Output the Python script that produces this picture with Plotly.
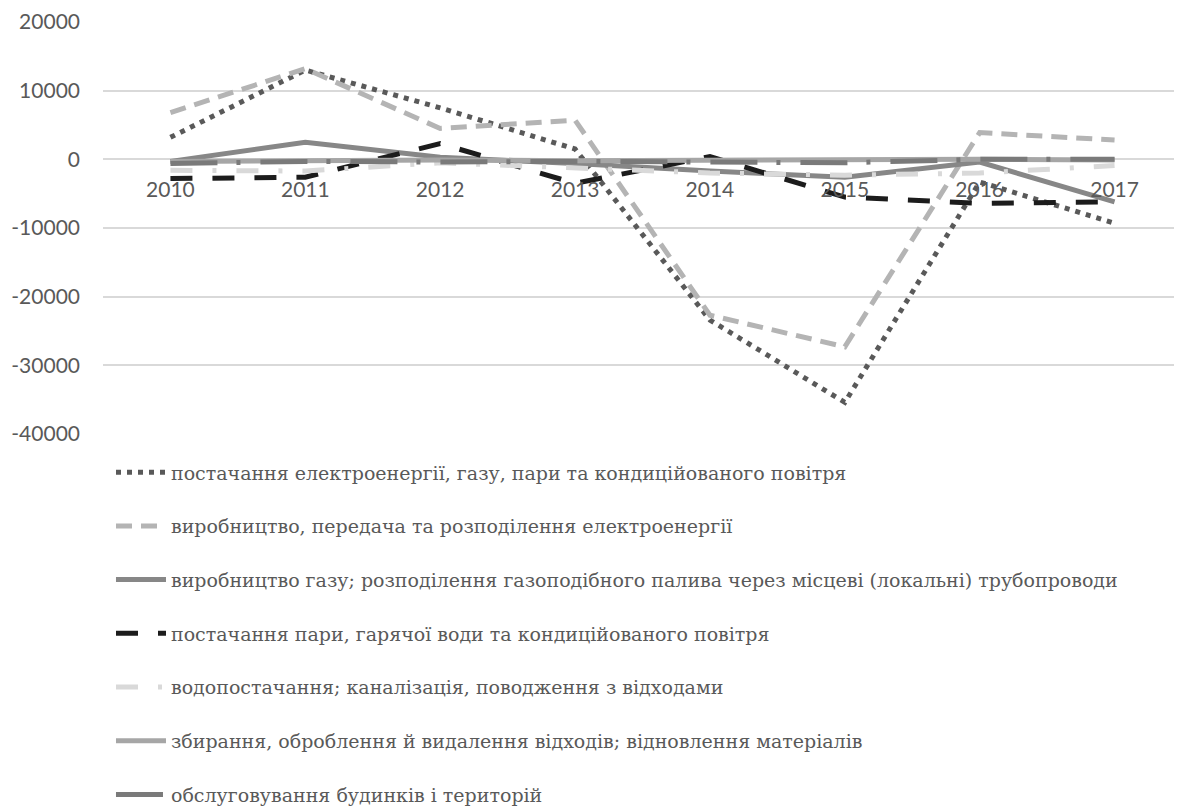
import plotly.graph_objects as go

years = ['2010', '2011', '2012', '2013', '2014', '2015', '2016', '2017']

names = [
    'постачання електроенергії, газу, пари та кондиційованого повітря',
    'виробництво, передача та розподілення електроенергії',
    'виробництво газу; розподілення газоподібного палива через місцеві (локальні) трубопроводи',
    'постачання пари, гарячої води та кондиційованого повітря',
    'водопостачання; каналізація, поводження з відходами',
    'збирання, оброблення й видалення відходів; відновлення матеріалів',
    'обслуговування будинків і територій',
]

s1 = [3200, 13000, 7500, 1500, -23400, -35400, -3300, -9300]
s2 = [6800, 13200, 4500, 5700, -22700, -27300, 3900, 2800]
s3 = [-300, 2500, 300, -600, -1700, -2600, -400, -6200]
s4 = [-2800, -2600, 2300, -3500, 400, -5500, -6400, -6200]
s5 = [-1600, -1700, -500, -1300, -2000, -2300, -2000, -900]
s6 = [-300, -200, -100, -200, -100, -100, 0, -100]
s7 = [-600, -300, -400, -300, -400, -500, 0, 0]

y_ticks = [20000, 10000, 0, -10000, -20000, -30000, -40000]
y_tick_text = ['20000', '10000', '0', '-10000', '-20000', '-30000', '-40000']

series = [s1, s2, s3, s4, s5, s6, s7]
styles = [
    dict(color='#595959', width=5, dash='5px,6px'),
    dict(color='#b4b4b4', width=5, dash='16px,9px'),
    dict(color='#878787', width=5, dash='solid'),
    dict(color='#1c1c1c', width=5, dash='22px,20px'),
    dict(color='#d9d9d9', width=5, dash='22px,20px,4px,20px'),
    dict(color='#a6a6a6', width=5, dash='solid'),
    dict(color='#7a7a7a', width=5, dash='47px,19px,4px,20px'),
]

fig = go.Figure()
for i, (nm, vals, st) in enumerate(zip(names, series, styles)):
    fig.add_trace(go.Scatter(
        x=years, y=vals, name=nm, mode='lines', line=st,
        legendgroup='g%d' % i, legendrank=i + 1,
    ))

fig.update_layout(
    width=1174, height=799,
    paper_bgcolor='white', plot_bgcolor='white',
    margin=dict(l=95, r=0, t=14, b=373, autoexpand=False),
    font=dict(family='Lato', size=21, color='#595959'),
    showlegend=True,
    legend=dict(
        orientation='v', x=0.0074, y=-0.047, xanchor='left', yanchor='top',
        font=dict(family='DejaVu Serif', size=19, color='#595959'),
        traceorder='grouped', tracegroupgap=26,
        bgcolor='rgba(0,0,0,0)', itemwidth=50,
    ),
    xaxis=dict(
        type='category', range=[-0.5, 7.5], showgrid=False, showline=False,
        zeroline=False, ticks='', anchor='free', position=2/3,
        ticklabelstandoff=16,
        tickfont=dict(family='Lato', size=21, color='#595959'),
    ),
    yaxis=dict(
        range=[-40000, 20000], tickvals=y_ticks, ticktext=y_tick_text,
        showgrid=True, gridcolor='#d9d9d9', gridwidth=1.5, zeroline=False,
        showline=False, ticks='', ticklabelstandoff=22,
        tickfont=dict(family='Lato', size=21, color='#595959'),
    ),
)

fig.write_html('out.html')
